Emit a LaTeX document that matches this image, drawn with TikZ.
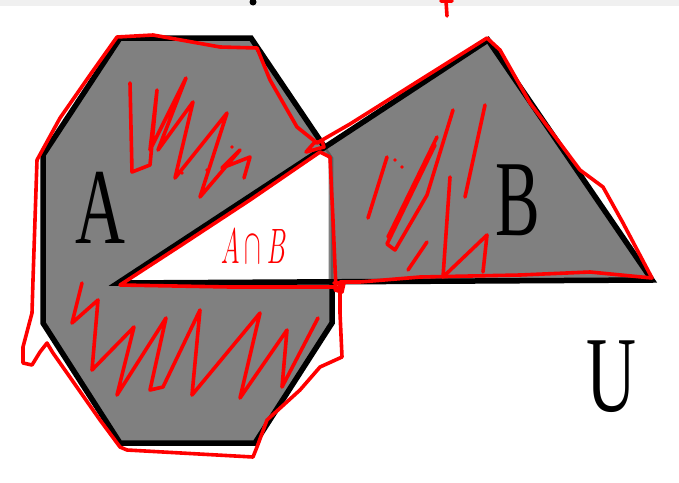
\documentclass[tikz,border=0pt]{standalone}
\usepackage{fontspec}
\setmainfont{Liberation Serif}
\usepackage{xcolor}
\usetikzlibrary{positioning,calc}
\definecolor{setgray}{RGB}{128,128,128}
\definecolor{edgegray}{RGB}{95,95,95}

\begin{document}
\begin{tikzpicture}[x=1pt,y=-1pt,
    setline/.style={line width=5.5pt,line join=miter},
    redpen/.style={red,line width=3.6pt,line cap=round,line join=round},
    setname/.style={font=\fontsize{108}{108}\selectfont,inner sep=0pt,anchor=base}]
  \useasboundingbox (0,0) rectangle (679,482);
  \fill[gray!12] (0,0) rectangle (679,6);

  % corners of the octagon A and the triangle B
  \coordinate (a1) at (43,155);  \coordinate (a2) at (120,38);
  \coordinate (a3) at (251,38);  \coordinate (a4) at (332,158);
  \coordinate (a5) at (332,323); \coordinate (a6) at (255,443);
  \coordinate (a7) at (120,443); \coordinate (a8) at (43,323);
  \coordinate (bl) at (118,283); \coordinate (bt) at (488,40);
  \coordinate (br) at (652,280);

  \fill[setgray] (a1)--(a2)--(a3)--(a4)--(a5)--(a6)--(a7)--(a8)--cycle;
  \fill[setgray] (bl)--(bt)--(br)--cycle;
  \begin{scope}
    \clip (a1)--(a2)--(a3)--(a4)--(a5)--(a6)--(a7)--(a8)--cycle;
    \fill[white] (bl)--(bt)--(br)--cycle;
  \end{scope}
  \draw[setline] (a1)--(a2)--(a3)--(a4)--(a5)--(a6)--(a7)--(a8)--cycle;
  \begin{scope}
    \clip (bl)--(bt)--(br)--cycle;
    \draw[setgray,line width=7pt] (a3)--(a4)--(a5)--(a6);
    \draw[edgegray,line width=2.5pt] (a3)--(a4)--(a5)--(a6);
  \end{scope}
  \draw[setline] (bl)--(bt)--(br)--cycle;

  \node[setname] (nameA) at (100,243) {\scalebox{0.64}[1]{A}};
  \node[setname] (nameB) at (518,235) {\scalebox{0.62}[1]{B}};
  \node[setname] (nameU) at (611,411) {\scalebox{0.64}[1]{U}};

  % marks cut off at the top
  \fill[black] (253,2) circle (3.5);
  \draw[redpen] (441,1)--(452,1) (446,1)--(447,16);

  % red outline of the union
  \draw[redpen] (37,160)--(60,118)--(90,75)--(117,37)--(153,35)--(220,47)--(257,48)
    --(270,80)--(297,127)--(317,143)--(350,124)--(420,80)--(487,38)--(500,50)
    --(530,103)--(580,170)--(603,187)--(623,223)--(652,278)--(590,272)--(520,275)
    --(420,277)--(360,282)--(340,282)--(340,313)--(342,357)--(320,367)--(300,390)
    --(267,420)--(257,447)--(253,457)--(127,450)--(120,447)--(100,420)--(53,353)
    --(47,343)--(40,352)--(32,365)--(23,363)--(23,347)--(32,313)--(33,280)--cycle;
  % red outline of the white part
  \draw[redpen] (120,285)--(180,246)--(250,200)--(320,152)--(330,157)--(333,220)
    --(336,290)--(337,287)--(230,287)--cycle;
  \draw[redpen] (306,152)--(314,143)--(322,141)--(324,147)--(306,152);
  \draw[redpen] (334,283)--(344,283)--(342,292)--(335,290);

  % scribbles in A
  \draw[redpen] (130,83)--(132,172)--(150,165)--(157,90)--(150,150)--(186,78)
    --(158,150)--(193,102)--(175,178)--(227,113)--(200,197)--(240,150)--(222,168)
    --(250,157)--(244,178);
  \draw[redpen] (82,283)--(72,323)--(98,300)--(92,370)--(134,327)--(117,395)
    --(166,318)--(150,390)--(163,387)--(200,310)--(192,395)--(260,313)--(240,398)
    --(287,330)--(282,387)--(318,318);
  \fill[red] (232,147) circle (1.8) (207,170) circle (1.8) (182,173) circle (1.8);

  % scribbles in B
  \draw[redpen] (387,157)--(368,218);
  \draw[redpen] (437,137)--(388,237);
  \draw[redpen] (453,110)--(427,195)--(395,250)--(387,244)--(435,145);
  \draw[redpen] (450,177)--(443,277)--(487,235)--(483,272);
  \draw[redpen] (485,105)--(465,197);
  \draw[redpen] (427,242)--(408,270);
  \fill[red] (395,160) circle (1.8) (402,167) circle (1.8);

  \node[red,inner sep=0pt,font=\fontsize{24.88}{25}\selectfont] (label) at (254,246)
    {\scalebox{1.0}[2.0]{$A\cap B$}};
\end{tikzpicture}
\end{document}
